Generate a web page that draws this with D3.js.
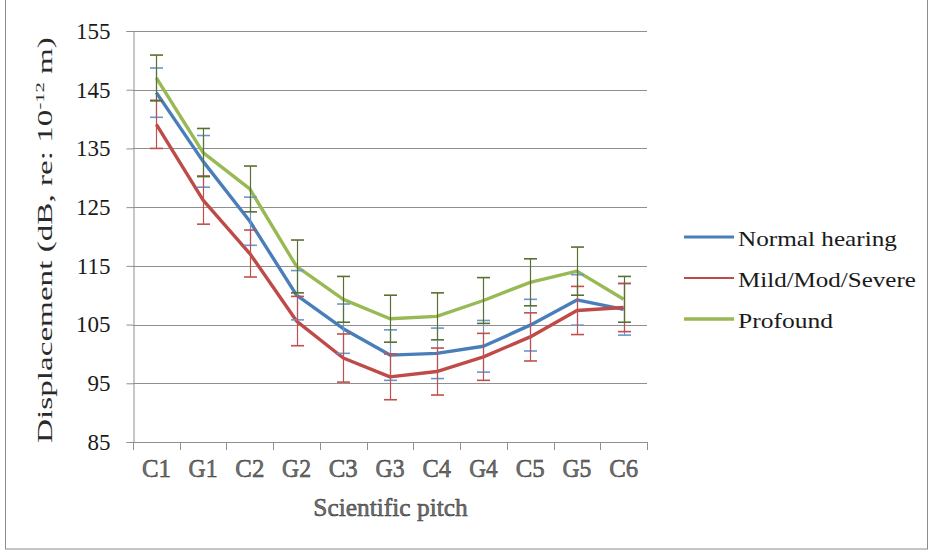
<!DOCTYPE html>
<html>
<head>
<meta charset="utf-8">
<script src="https://cdn.jsdelivr.net/npm/d3@7"></script>
<style>
  html, body { margin: 0; padding: 0; background: #fff; }
  svg { display: block; font-family: "Liberation Serif", "Times New Roman", serif; }
</style>
</head>
<body>
<svg id="chart" width="931" height="554"></svg>
<script>
// Pitch categories along the x axis
const pitches = ["C1", "G1", "C2", "G2", "C3", "G3", "C4", "G4", "C5", "G5", "C6"];
const yTicks = [85, 95, 105, 115, 125, 135, 145, 155];

// Mean displacement (dB re 1e-12 m) per group
const normalMean  = [144.5, 132.8, 122.6, 110.0, 104.3, 99.8, 100.1, 101.3, 104.9, 109.2, 107.6];
const mildMean    = [139.1, 126.2, 117.1, 105.6, 99.3, 96.1, 97.0, 99.5, 102.9, 107.4, 107.9];
const profMean    = [147.0, 134.3, 128.1, 114.9, 109.3, 106.0, 106.4, 109.1, 112.2, 114.1, 109.3];

// Error bar half-widths (dB)
const normalErr = [4.2, 4.4, 4.1, 4.2, 4.2, 4.3, 4.3, 4.4, 4.4, 4.3, 4.4];
const mildErr   = [4.1, 4.1, 4.0, 4.2, 4.1, 3.9, 4.0, 4.0, 4.1, 4.1, 4.1];
const profErr   = [3.9, 4.1, 3.9, 4.5, 3.9, 4.0, 4.0, 3.9, 4.0, 4.1, 3.9];

const groups = [
  { name: "Normal hearing",   mean: normalMean, err: normalErr, line: "#4a7ebb", bar: "#6a96cc", legendW: 3,   textW: 159 },
  { name: "Mild/Mod/Severe",  mean: mildMean,   err: mildErr,   line: "#be4b48", bar: "#c0504d", legendW: 2,   textW: 178 },
  { name: "Profound",         mean: profMean,   err: profErr,   line: "#98b954", bar: "#5a7030", legendW: 3.5, textW: 95 }
];

const svg = d3.select("#chart");
const plotLeft = 133, plotRight = 647, plotTop = 31, plotBottom = 442;

const x = d3.scaleBand().domain(pitches).range([plotLeft, plotRight]).padding(0);
const y = d3.scaleLinear().domain([85, 155]).range([plotBottom, plotTop]);
const cx = d => x(d) + x.bandwidth() / 2;

// Places a text at (px, py) and stretches it along its run to a given length.
function stretchedText(parent, px, py, angle, target, anchor, attrs, build) {
  const g = parent.append("g");
  const t = g.append("text").attr("text-anchor", anchor);
  Object.entries(attrs).forEach(([k, v]) => t.attr(k, v));
  build(t);
  const w = t.node().getBBox().width;
  const k = w > 0 ? target / w : 1;
  g.attr("transform", `translate(${px},${py}) rotate(${angle}) scale(${k},1)`);
  return g;
}

// Outer frame
svg.append("rect")
  .attr("x", 5.5).attr("y", -2).attr("width", 922).attr("height", 551)
  .attr("fill", "none").attr("stroke", "#8c8c8c").attr("stroke-width", 1);

// Horizontal gridlines
svg.append("g").selectAll("line").data(yTicks.slice(1)).join("line")
  .attr("x1", plotLeft).attr("x2", plotRight)
  .attr("y1", d => Math.round(y(d)) + 0.5).attr("y2", d => Math.round(y(d)) + 0.5)
  .attr("stroke", "#8f8f8f").attr("stroke-width", 1);

// Y axis
const yAxis = svg.append("g").attr("transform", `translate(${plotLeft + 0.5},0)`)
  .call(d3.axisLeft(y).tickValues(yTicks).tickSize(7).tickPadding(16).tickFormat(d3.format("d")));
yAxis.select(".domain").attr("stroke", "#8f8f8f");
yAxis.selectAll(".tick line").attr("stroke", "#8f8f8f");
yAxis.selectAll(".tick text")
  .attr("font-family", "Liberation Serif, Times New Roman, serif")
  .attr("font-size", 23).attr("fill", "#1a1a1a");

// X axis line and category boundary ticks
svg.append("line")
  .attr("x1", plotLeft).attr("x2", plotRight)
  .attr("y1", plotBottom + 0.5).attr("y2", plotBottom + 0.5)
  .attr("stroke", "#8f8f8f");
const edges = pitches.map(p => x(p)).concat([plotRight]);
svg.append("g").selectAll("line").data(edges).join("line")
  .attr("x1", d => Math.round(d) + 0.5).attr("x2", d => Math.round(d) + 0.5)
  .attr("y1", plotBottom).attr("y2", plotBottom + 8)
  .attr("stroke", "#8f8f8f");

// Category labels
const labelStyle = { "font-size": 25, fill: "#707070", stroke: "#333", "stroke-width": 0.5 };
pitches.forEach(p => {
  stretchedText(svg, cx(p), 477, 0, 29, "middle", labelStyle, t => t.text(p));
});

// Axis titles
stretchedText(svg, 390.5, 516, 0, 155, "middle",
  { "font-size": 25, fill: "#707070", stroke: "#333", "stroke-width": 0.5 },
  t => t.text("Scientific pitch"));

stretchedText(svg, 52, 240, -90, 406, "middle",
  { "font-size": 21, fill: "#2a2a2a" },
  t => {
    t.append("tspan").text("Displacement (dB, re: 10");
    t.append("tspan").attr("font-size", 13).attr("dy", -8).text("-12");
    t.append("tspan").attr("dy", 8).text(" m)");
  });

// Lines
const line = d3.line().x((d, i) => cx(pitches[i])).y(d => y(d));
groups.forEach(g => {
  svg.append("path").datum(g.mean)
    .attr("d", line)
    .attr("fill", "none").attr("stroke", g.line)
    .attr("stroke-width", 3.4).attr("stroke-linejoin", "round");
});

// Error bars
const capHalf = 6.5;
groups.forEach(g => {
  const eg = svg.append("g");
  g.mean.forEach((m, i) => {
    const xc = Math.round(cx(pitches[i])) + 0.5;
    const y1 = y(m + g.err[i]), y2 = y(m - g.err[i]);
    eg.append("line").attr("x1", xc).attr("x2", xc).attr("y1", y1).attr("y2", y2)
      .attr("stroke", g.bar).attr("stroke-width", 1.2);
    [y1, y2].forEach(yy => {
      eg.append("line").attr("x1", xc - capHalf).attr("x2", xc + capHalf)
        .attr("y1", yy).attr("y2", yy)
        .attr("stroke", g.bar).attr("stroke-width", 1.6);
    });
  });
});

// Legend
const legendRows = [237, 278, 319];
groups.forEach((g, i) => {
  svg.append("line").attr("x1", 684).attr("x2", 734)
    .attr("y1", legendRows[i]).attr("y2", legendRows[i])
    .attr("stroke", g.line).attr("stroke-width", g.legendW);
  stretchedText(svg, 738, legendRows[i] + 8.5, 0, g.textW, "start",
    { "font-size": 22, fill: "#1a1a1a" }, t => t.text(g.name));
});
</script>
</body>
</html>
